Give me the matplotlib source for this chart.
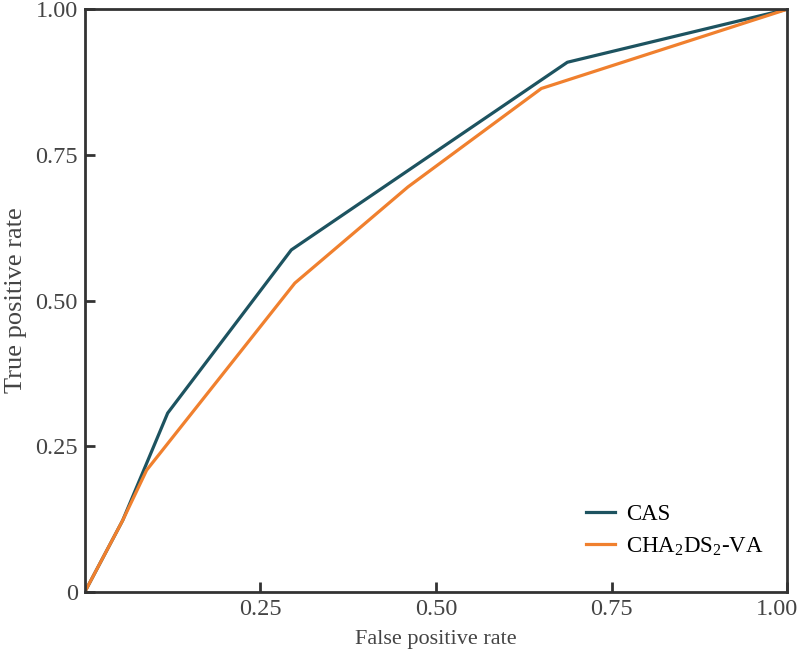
import matplotlib
matplotlib.use('Agg')
import matplotlib.pyplot as plt
import matplotlib.transforms as mtransforms

plt.rcParams['font.family'] = ['Liberation Serif', 'DejaVu Serif']
plt.rcParams['mathtext.fontset'] = 'custom'
plt.rcParams['mathtext.rm'] = 'Liberation Serif'
plt.rcParams['mathtext.it'] = 'Liberation Serif:italic'

# ROC points
cas_fpr = [0.0, 0.054, 0.118, 0.294, 0.687, 1.0]
cas_tpr = [0.0, 0.123, 0.307, 0.587, 0.909, 1.0]
cha_fpr = [0.0, 0.054, 0.088, 0.299, 0.46, 0.650, 1.0]
cha_tpr = [0.0, 0.123, 0.209, 0.530, 0.695, 0.864, 1.0]

xticks = [0.25, 0.50, 0.75, 1.00]
xtick_labels = ['0.25', '0.50', '0.75', '1.00']
yticks = [0, 0.25, 0.50, 0.75, 1.00]
ytick_labels = ['0', '0.25', '0.50', '0.75', '1.00']

fig = plt.figure(figsize=(8, 6.59), dpi=100)
ax = fig.add_axes([0.106, 0.1017, 0.878, 0.8843])

ax.plot(cas_fpr, cas_tpr, color='#1d5360', lw=2.3, label='CAS')
ax.plot(cha_fpr, cha_tpr, color='#f0802e', lw=2.3, label='CHA$_2$DS$_2$-VA')

ax.set_xlim(0, 1)
ax.set_ylim(0, 1)
ax.set_xticks(xticks)
ax.set_xticklabels(xtick_labels)
ax.set_yticks(yticks)
ax.set_yticklabels(ytick_labels)
ax.tick_params(direction='in', length=7, width=2, labelsize=17.5, colors='#333333',
               labelcolor='#444444', pad=5)
for s in ax.spines.values():
    s.set_color('#333333')
    s.set_linewidth(2)

# last x label sits a bit left so it stays inside the figure
last = ax.get_xticklabels()[-1]
last.set_transform(last.get_transform() + mtransforms.ScaledTranslation(-0.1, 0, fig.dpi_scale_trans))

ax.set_xlabel('False positive rate', fontsize=16, color='#444444')
ax.xaxis.set_label_coords(0.5, -0.066)
ax.set_ylabel('True positive rate', fontsize=19, color='#444444')
ax.yaxis.set_label_coords(-0.082, 0.5)

ax.legend(loc='center left', frameon=False, fontsize=16.5, handlelength=1.3,
          handletextpad=0.45, borderpad=0, borderaxespad=0, labelspacing=0.45,
          bbox_to_anchor=(0.713, 0.105))

fig.savefig('out.png', dpi=100)
